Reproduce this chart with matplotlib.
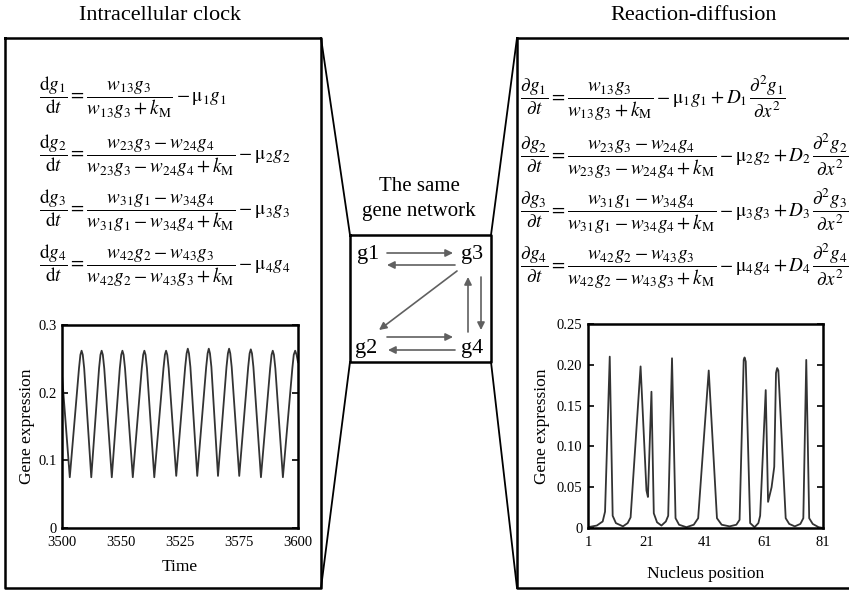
import matplotlib
matplotlib.use("Agg")
import matplotlib.pyplot as plt

plt.rcParams["font.family"] = ["Liberation Serif", "DejaVu Serif"]
plt.rcParams["mathtext.fontset"] = "stix"

# ============================================================
# Data
# ============================================================
# intracellular clock: one gene over time
clock_time = [3500, 3503.3, 3507.2, 3507.8, 3508.3, 3508.8, 3509.4,
              3512.4, 3515.7, 3516.3, 3516.8, 3517.3, 3517.9,
              3521.1, 3524.5, 3525.1, 3525.6, 3526.1, 3526.7,
              3530.0, 3533.8, 3534.4, 3534.9, 3535.4, 3536.0,
              3539.1, 3543.0, 3543.6, 3544.1, 3544.6, 3545.2,
              3548.4, 3552.2, 3552.8, 3553.3, 3553.8, 3554.4,
              3557.3, 3561.1, 3561.7, 3562.2, 3562.7, 3563.3,
              3566.1, 3569.7, 3570.3, 3570.8, 3571.3, 3571.9,
              3575.1, 3578.9, 3579.5, 3580.0, 3580.5, 3581.1,
              3584.3, 3588.2, 3588.8, 3589.3, 3589.8, 3590.4,
              3593.6, 3597.6, 3598.2, 3598.8, 3599.4, 3600]
clock_expr = [0.226, 0.075, 0.236, 0.256, 0.262, 0.256, 0.236,
              0.075, 0.236, 0.256, 0.262, 0.256, 0.236,
              0.075, 0.236, 0.256, 0.262, 0.256, 0.236,
              0.075, 0.236, 0.256, 0.262, 0.256, 0.236,
              0.075, 0.236, 0.256, 0.262, 0.256, 0.236,
              0.077, 0.238, 0.258, 0.265, 0.258, 0.238,
              0.077, 0.238, 0.258, 0.265, 0.258, 0.238,
              0.077, 0.238, 0.258, 0.265, 0.258, 0.238,
              0.077, 0.238, 0.258, 0.264, 0.258, 0.238,
              0.075, 0.236, 0.256, 0.262, 0.256, 0.236,
              0.075, 0.236, 0.256, 0.262, 0.256, 0.245]
clock_xticks = [3500, 3525, 3550, 3575, 3600]
clock_xticklabels = ["3500", "3550", "3525", "3575", "3600"]
clock_yticks = [0, 0.1, 0.2, 0.3]
clock_yticklabels = ["0", "0.1", "0.2", "0.3"]

# reaction-diffusion: one gene along the embryo
nucleus_pos = [1, 4, 6.0, 6.8, 8.4, 9.4, 10.5, 12.9, 14.5, 15.5,
               18.9, 20.9, 21.4, 22.6, 23.4, 24.5, 26.0, 27.5, 28.3,
               29.6, 30.8, 32.0, 34.5, 37.0, 38.5, 42.1, 44.9, 46.5,
               49.2, 51.5, 52.6, 54.0, 54.3, 54.7, 56.2, 57.7, 59.0,
               59.6, 61.5, 62.3, 63.5, 64.4, 65.0, 65.4, 65.8, 68.3,
               69.5, 71.4, 73.3, 74.3, 75.3, 76.3, 77.5, 79.5, 81]
nucleus_expr = [0.001, 0.003, 0.008, 0.020, 0.210, 0.015, 0.006, 0.002, 0.006, 0.013,
                0.198, 0.046, 0.038, 0.167, 0.018, 0.007, 0.003, 0.008, 0.015,
                0.208, 0.012, 0.004, 0.001, 0.004, 0.012, 0.193, 0.012, 0.004,
                0.002, 0.004, 0.010, 0.206, 0.209, 0.204, 0.006, 0.001, 0.006,
                0.015, 0.169, 0.032, 0.050, 0.075, 0.190, 0.196, 0.193, 0.012,
                0.005, 0.002, 0.005, 0.012, 0.206, 0.012, 0.005, 0.001, 0.000]
nucleus_xticks = [1, 21, 41, 61, 81]
nucleus_yticks = [0, 0.05, 0.10, 0.15, 0.20, 0.25]
nucleus_yticklabels = ["0", "0.05", "0.10", "0.15", "0.20", "0.25"]

ode_eqs = [
    r"$\dfrac{\mathrm{d}g_1}{\mathrm{d}t}=\dfrac{w_{13}g_3}{w_{13}g_3+k_{\mathrm{M}}}-\mathrm{\mu}_1g_1$",
    r"$\dfrac{\mathrm{d}g_2}{\mathrm{d}t}=\dfrac{w_{23}g_3-w_{24}g_4}{w_{23}g_3-w_{24}g_4+k_{\mathrm{M}}}-\mathrm{\mu}_2g_2$",
    r"$\dfrac{\mathrm{d}g_3}{\mathrm{d}t}=\dfrac{w_{31}g_1-w_{34}g_4}{w_{31}g_1-w_{34}g_4+k_{\mathrm{M}}}-\mathrm{\mu}_3g_3$",
    r"$\dfrac{\mathrm{d}g_4}{\mathrm{d}t}=\dfrac{w_{42}g_2-w_{43}g_3}{w_{42}g_2-w_{43}g_3+k_{\mathrm{M}}}-\mathrm{\mu}_4g_4$",
]
pde_eqs = [
    r"$\dfrac{\partial g_1}{\partial t}=\dfrac{w_{13}g_3}{w_{13}g_3+k_{\mathrm{M}}}-\mathrm{\mu}_1g_1+D_1\,\dfrac{\partial^2g_1}{\partial x^2}$",
    r"$\dfrac{\partial g_2}{\partial t}=\dfrac{w_{23}g_3-w_{24}g_4}{w_{23}g_3-w_{24}g_4+k_{\mathrm{M}}}-\mathrm{\mu}_2g_2+D_2\,\dfrac{\partial^2g_2}{\partial x^2}$",
    r"$\dfrac{\partial g_3}{\partial t}=\dfrac{w_{31}g_1-w_{34}g_4}{w_{31}g_1-w_{34}g_4+k_{\mathrm{M}}}-\mathrm{\mu}_3g_3+D_3\,\dfrac{\partial^2g_3}{\partial x^2}$",
    r"$\dfrac{\partial g_4}{\partial t}=\dfrac{w_{42}g_2-w_{43}g_3}{w_{42}g_2-w_{43}g_3+k_{\mathrm{M}}}-\mathrm{\mu}_4g_4+D_4\,\dfrac{\partial^2g_4}{\partial x^2}$",
]

# gene network: node labels and edges (from, to)
nodes = {"g1": (368, 255), "g3": (472, 255), "g2": (366, 348), "g4": (472, 348)}
edges = [((387, 253), (453, 253)), ((455, 265), (387, 265)),
         ((457, 271), (379, 330)),
         ((468, 332), (468, 277)), ((481, 277), (481, 330)),
         ((387, 337), (453, 337)), ((455, 350), (388, 350))]

# ============================================================
# Layout (pixels)
# ============================================================
W, H = 849, 591
fig = plt.figure(figsize=(W / 100, H / 100), dpi=100)
bg = fig.add_axes([0, 0, 1, 1])
bg.set_xlim(0, W)
bg.set_ylim(H, 0)
bg.axis("off")


def px_axes(x0, y0, x1, y1):
    return fig.add_axes([x0 / W, 1 - y1 / H, (x1 - x0) / W, (y1 - y0) / H])


# panel frames
lw_box = 1.8
bg.plot([5, 321, 321, 5, 5], [38, 38, 588, 588, 38], color="k", lw=lw_box)
bg.plot([517, 860], [38, 38], color="k", lw=lw_box)
bg.plot([517, 517, 860], [38, 588, 588], color="k", lw=lw_box)
bg.plot([350, 491, 491, 350, 350], [235, 235, 362, 362, 235], color="k", lw=lw_box)
# funnel lines
for (xa, ya), (xb, yb) in [((321, 38), (350, 235)), ((321, 588), (350, 362)),
                           ((517, 38), (491, 235)), ((517, 588), (491, 362))]:
    bg.plot([xa, xb], [ya, yb], color="k", lw=1.3)

bg.text(160, 15, "Intracellular clock", fontsize=16, ha="center", va="center")
bg.text(694, 15, "Reaction-diffusion", fontsize=16, ha="center", va="center")
bg.text(419, 199, "The same\ngene network", fontsize=15, ha="center", va="center",
        linespacing=1.4)

eq_rows = [98, 156, 211, 266]
for y, s in zip(eq_rows, ode_eqs):
    bg.text(39, y, s, fontsize=13.8, ha="left", va="center")
for y, s in zip(eq_rows, pde_eqs):
    bg.text(520, y, s, fontsize=13.8, ha="left", va="center")

for name, (x, y) in nodes.items():
    bg.text(x, y, name, fontsize=16, ha="center", va="center")
for start, end in edges:
    bg.annotate("", xy=end, xytext=start,
                arrowprops=dict(arrowstyle="-|>", color="#606060", lw=1.2,
                                mutation_scale=11, shrinkA=0, shrinkB=0))


def style_axes(ax):
    for sp in ax.spines.values():
        sp.set_linewidth(1.8)
    ax.tick_params(direction="in", length=4, width=1.2, labelsize=10.5,
                   left=True, right=True, top=False, bottom=False)
    ax.tick_params(axis="x", pad=6)
    ax.tick_params(axis="y", pad=4)


# intracellular clock plot
ax1 = px_axes(62, 325, 298, 528)
ax1.plot(clock_time, clock_expr, color="#333333", lw=1.3)
ax1.set_xlim(3500, 3600)
ax1.set_ylim(0, 0.3)
ax1.set_xticks(clock_xticks, clock_xticklabels)
ax1.set_yticks(clock_yticks, clock_yticklabels)
ax1.set_xlabel("Time", fontsize=12.5, labelpad=7)
ax1.set_ylabel("Gene expression", fontsize=12.5, labelpad=2)
style_axes(ax1)

# reaction-diffusion plot
ax2 = px_axes(588, 324, 823, 528)
ax2.plot(nucleus_pos, nucleus_expr, color="#333333", lw=1.3)
ax2.set_xlim(1, 81)
ax2.set_ylim(0, 0.25)
ax2.set_xticks(nucleus_xticks)
ax2.set_yticks(nucleus_yticks, nucleus_yticklabels)
ax2.set_xlabel("Nucleus position", fontsize=12.5, labelpad=12)
ax2.set_ylabel("Gene expression", fontsize=12.5, labelpad=5)
style_axes(ax2)

fig.savefig("out.png", dpi=100)
